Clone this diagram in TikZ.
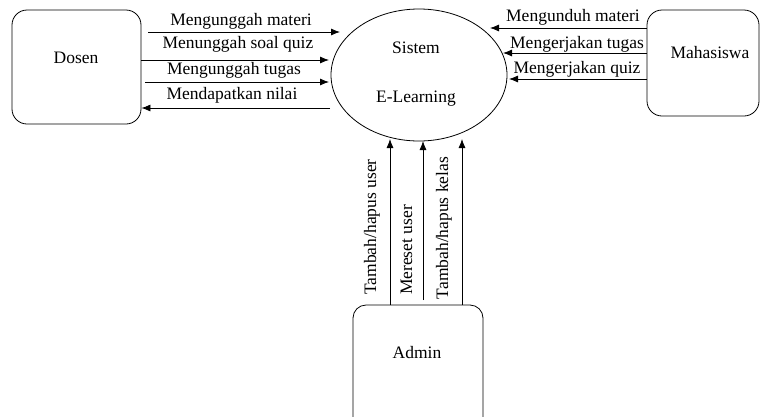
\documentclass[tikz,border=0pt]{standalone}
\usepackage{fontspec}
\setmainfont{Liberation Serif}
\newfontfamily\tnrfont{Liberation Serif}
\usetikzlibrary{shapes.geometric,arrows.meta}
\begin{document}
\begin{tikzpicture}[x=1pt,y=-1pt,
  box/.style={draw,rounded corners=15pt,line width=0.8pt,inner sep=0pt},
  arr/.style={-{Latex[length=9pt,width=7pt]},line width=0.8pt},
  lbl/.style={font=\tnrfont\fontsize{17.5}{20}\selectfont,anchor=base,inner sep=0pt},
  vlbl/.style={lbl,rotate=90}]
\useasboundingbox (0,0) rectangle (761,416);
% entities
\node[box,minimum width=129pt,minimum height=114pt] (dosen) at (76.5,67) {};
\node[box,minimum width=112pt,minimum height=106pt] (maha) at (703,63) {};
\node[box,rounded corners=13pt,minimum width=130pt,minimum height=125pt] (admin) at (418,367.5) {};
\node[draw,ellipse,line width=0.8pt,minimum width=176pt,minimum height=132pt,inner sep=0pt] (sys) at (419,75) {};
% entity texts
\node[lbl] (tdosen) at (76,63) {Dosen};
\node[lbl] (tmaha) at (710,58) {Mahasiswa};
\node[lbl] (tadmin) at (417,358) {Admin};
\node[lbl] (tsys1) at (416,53) {Sistem};
\node[lbl] (tsys2) at (416,102) {E-Learning};
% connector end points
\coordinate (l1) at (340,32);
\coordinate (l2) at (329,60);
\coordinate (l3) at (329,82);
\coordinate (l4) at (330,108);
\coordinate (r1) at (490,28);
\coordinate (r2) at (503,53);
\coordinate (r3) at (509,79);
\coordinate (v1) at (390,139);
\coordinate (v2) at (423,141);
\coordinate (v3) at (462,139);
\coordinate (v2s) at (423,300);
% Dosen flows
\draw[arr] ([xshift=7pt]dosen.east |- l1) -- (l1);
\draw[arr] (dosen.east |- l2) -- (l2);
\draw[arr] ([xshift=4pt]dosen.east |- l3) -- (l3);
\draw[arr] (l4) -- (dosen.east |- l4);
\node[lbl] (f1) at (241,25) {Mengunggah materi};
\node[lbl] (f2) at (238,48) {Menunggah soal quiz};
\node[lbl] (f3) at (234,74) {Mengunggah tugas};
\node[lbl] (f4) at (232,99) {Mendapatkan nilai};
% Mahasiswa flows
\draw[arr] (maha.west |- r1) -- (r1);
\draw[arr] (maha.west |- r2) -- (r2);
\draw[arr] (maha.west |- r3) -- (r3);
\node[lbl] (g1) at (573,21) {Mengunduh materi};
\node[lbl] (g2) at (577,48) {Mengerjakan tugas};
\node[lbl] (g3) at (577,73) {Mengerjakan quiz};
% Admin flows
\draw[arr] (admin.north -| v1) -- (v1);
\draw[arr] (v2s) -- (v2);
\draw[arr] (admin.north -| v3) -- (v3);
\node[vlbl] (h1) at (376,227) {Tambah/hapus user};
\node[vlbl] (h2) at (412,250) {Mereset user};
\node[vlbl] (h3) at (448,228) {Tambah/hapus kelas};
\end{tikzpicture}
\end{document}
